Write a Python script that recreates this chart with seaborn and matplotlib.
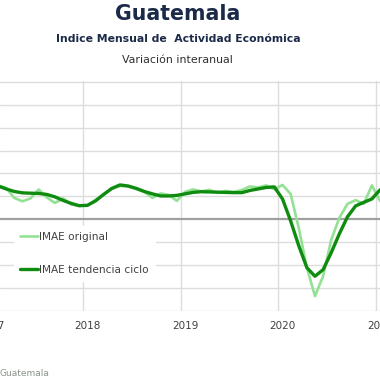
import numpy as np
import pandas as pd
import seaborn as sns
import matplotlib.pyplot as plt
from matplotlib.lines import Line2D

# monthly index: 0 = Jan 2018 (points sit mid-month)
months = list(range(-11, 37))

# pixel readings converted to % (grid step = 2)
original = [2.96, 2.74, 1.87, 1.57, 1.83, 2.61, 1.91, 1.43, 1.83, 1.30, 1.17, 1.22,
            1.70, 2.22, 2.65, 2.91, 2.87, 2.65, 2.39, 1.87, 2.26, 2.13, 1.61, 2.39,
            2.61, 2.43, 2.57, 2.30, 2.48, 2.39, 2.56, 2.87, 2.78, 2.96, 2.61, 3.00,
            2.22, -0.74, -4.22, -6.70, -4.96, -1.78, 0.13, 1.35, 1.67, 1.35, 2.96, 1.61]
trend = [2.91, 2.65, 2.43, 2.31, 2.28, 2.26, 2.17, 1.96, 1.65, 1.39, 1.19, 1.22,
         1.61, 2.17, 2.70, 3.00, 2.91, 2.70, 2.43, 2.22, 2.04, 2.04, 2.09, 2.22,
         2.35, 2.41, 2.39, 2.37, 2.35, 2.33, 2.33, 2.52, 2.65, 2.78, 2.83, 1.78,
         -0.13, -2.30, -4.22, -4.97, -4.39, -2.91, -1.26, 0.22, 1.17, 1.48, 1.78, 2.57]

years = ["2017", "2018", "2019", "2020", "2021"]
year_pos = [-12, 0, 12, 24, 36]

df = pd.DataFrame({
    "mes": months * 2,
    "valor": original + trend,
    "serie": ["IMAE original"] * len(months) + ["IMAE tendencia ciclo"] * len(months),
})

sns.set_style("white")
plt.rcParams["font.family"] = ["DejaVu Sans"]

fig = plt.figure(figsize=(3.8, 3.8), dpi=100)
ax = fig.add_axes([0.0, 0.1816, 1.0, 0.604])

sns.lineplot(data=df, x="mes", y="valor", hue="serie",
             palette={"IMAE original": "#93e193", "IMAE tendencia ciclo": "#0f8c0f"},
             size="serie", sizes={"IMAE original": 1.9, "IMAE tendencia ciclo": 2.4},
             ax=ax, legend=False, zorder=3)

# grid
for y in range(-8, 13, 2):
    if y == 0:
        ax.axhline(0, color="#a0a0a0", lw=1.6, zorder=2)
    else:
        ax.axhline(y, color="#dcdcdc", lw=1.0, zorder=1)
for p in year_pos:
    ax.axvline(p - 0.5, color="#dcdcdc", lw=1.0, zorder=1)

ax.set_xticks(year_pos[1:])
ax.set_xticklabels(years[1:], color="#404040", fontsize=7.5)
ax.tick_params(axis="x", length=0, pad=7)
ax.set_yticks([])
ax.set_xlabel("")
ax.set_ylabel("")
ax.set_xlim(-10.76, 36.0)
ax.set_ylim(-8, 12.03)
for s in ax.spines.values():
    s.set_visible(False)

# first year label sits left of the view, only its last digit shows
ax.annotate(years[0], xy=(year_pos[0] + 0.2, 0), xycoords=ax.get_xaxis_transform(),
            xytext=(0, -7), textcoords="offset points", ha="center", va="top",
            fontsize=7.5, color="#404040", annotation_clip=False)

handles = [Line2D([], [], color="#93e193", lw=1.9), Line2D([], [], color="#0f8c0f", lw=2.4)]
leg = ax.legend(handles, ["IMAE original", "IMAE tendencia ciclo"],
                loc="upper left", bbox_to_anchor=(0.022, 0.395), frameon=True,
                fontsize=7.6, labelcolor="#404040", handlelength=1.75, handletextpad=0.1,
                labelspacing=2.15, borderpad=0.6)
leg.get_frame().set_facecolor("white")
leg.get_frame().set_edgecolor("white")
leg.get_frame().set_alpha(1)
leg.set_zorder(4)

fig.text(0.468, 0.962, "Guatemala", ha="center", va="center",
         fontsize=14.8, fontweight="bold", color="#1b2a48")
fig.text(0.468, 0.897, "Indice Mensual de  Actividad Económica", ha="center", va="center",
         fontsize=7.8, fontweight="bold", color="#1b2a48")
fig.text(0.468, 0.842, "Variación interanual", ha="center", va="center",
         fontsize=7.9, color="#303030")
fig.text(0.0, 0.016, "Guatemala", ha="left", va="center", fontsize=6.5, color="#8a948a")

fig.savefig("out.png", dpi=100)
